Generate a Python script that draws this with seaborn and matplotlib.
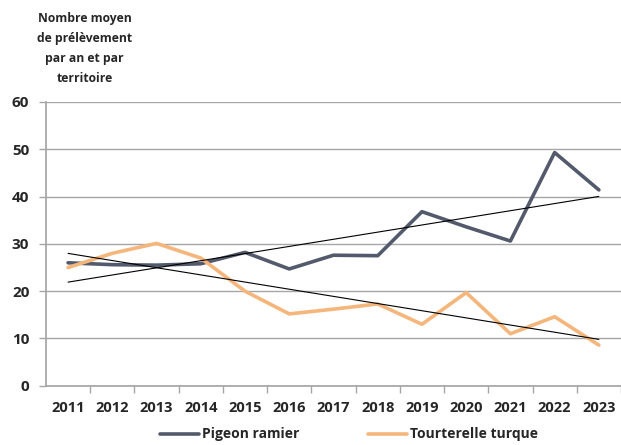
import numpy as np
import pandas as pd
import matplotlib
matplotlib.use("Agg")
import matplotlib.pyplot as plt
from matplotlib.ticker import FixedLocator
import seaborn as sns

years = [2011, 2012, 2013, 2014, 2015, 2016, 2017, 2018, 2019, 2020, 2021, 2022, 2023]
pigeon = [26.0, 25.6, 25.5, 25.8, 28.2, 24.7, 27.6, 27.5, 36.8, 33.6, 30.6, 49.3, 41.4]
tourterelle = [25.0, 28.0, 30.1, 27.0, 20.0, 15.2, 16.2, 17.3, 13.0, 19.7, 11.0, 14.6, 8.6]
series_names = ["Pigeon ramier", "Tourterelle turque"]
colors = ["#535a6b", "#f5b67c"]
y_title = "Nombre moyen\nde prélèvement\npar an et par\nterritoire"

sns.set_theme(style="white")
plt.rcParams["font.family"] = ["Open Sans", "DejaVu Sans"]

pos = np.arange(len(years))
df = pd.DataFrame({
    "pos": np.concatenate([pos, pos]),
    "valeur": pigeon + tourterelle,
    "espece": [series_names[0]] * len(years) + [series_names[1]] * len(years),
})

fig = plt.figure(figsize=(6.21, 4.45), dpi=100)
ax = fig.add_axes([0.074, 0.133, 0.926, 0.638])

sns.lineplot(data=df, x="pos", y="valeur", hue="espece", palette=colors,
             linewidth=2.6, ax=ax, legend=False)

# droites de tendance linéaires
for name in series_names:
    sub = df[df["espece"] == name]
    sns.regplot(data=sub, x="pos", y="valeur", scatter=False, ci=None,
                color="black", line_kws={"linewidth": 0.8}, ax=ax)

ax.set_xlim(-0.5, 12.5)
ax.set_ylim(0, 60)
ax.set_yticks(range(0, 61, 10))
ax.yaxis.grid(True, color="#a6a6a6", linewidth=1.0)
ax.set_axisbelow(True)

ax.set_xticks(pos)
ax.set_xticklabels(years, fontweight="bold", fontsize=10.5)
ax.xaxis.set_minor_locator(FixedLocator(np.arange(0.5, 13, 1.0)))
ax.tick_params(axis="x", which="major", length=0, pad=11)
ax.tick_params(axis="x", which="minor", length=5, color="#a6a6a6", width=1, direction="out", bottom=True)
ax.tick_params(axis="y", which="major", length=5, color="#a6a6a6", width=1, direction="out", left=True, pad=7)
for lbl in ax.get_yticklabels():
    lbl.set_fontweight("bold")
    lbl.set_fontsize(11)

for side in ["top", "right"]:
    ax.spines[side].set_visible(False)
ax.spines["left"].set_color("#a6a6a6")
ax.spines["bottom"].set_color("#a6a6a6")
ax.set_xlabel("")
ax.set_ylabel("")

fig.text(0.136, 0.974, y_title, ha="center", va="top", fontsize=8.7,
         fontweight="bold", linespacing=1.72)

handles = [plt.Line2D([], [], color=c, linewidth=2.6) for c in colors]
fig.legend(handles, series_names, loc="lower center", ncol=2, frameon=False,
           bbox_to_anchor=(0.562, -0.02), prop={"weight": "bold", "size": 10},
           handlelength=2.8, handletextpad=0.2, columnspacing=5.0)

fig.savefig("out.png", dpi=100)
